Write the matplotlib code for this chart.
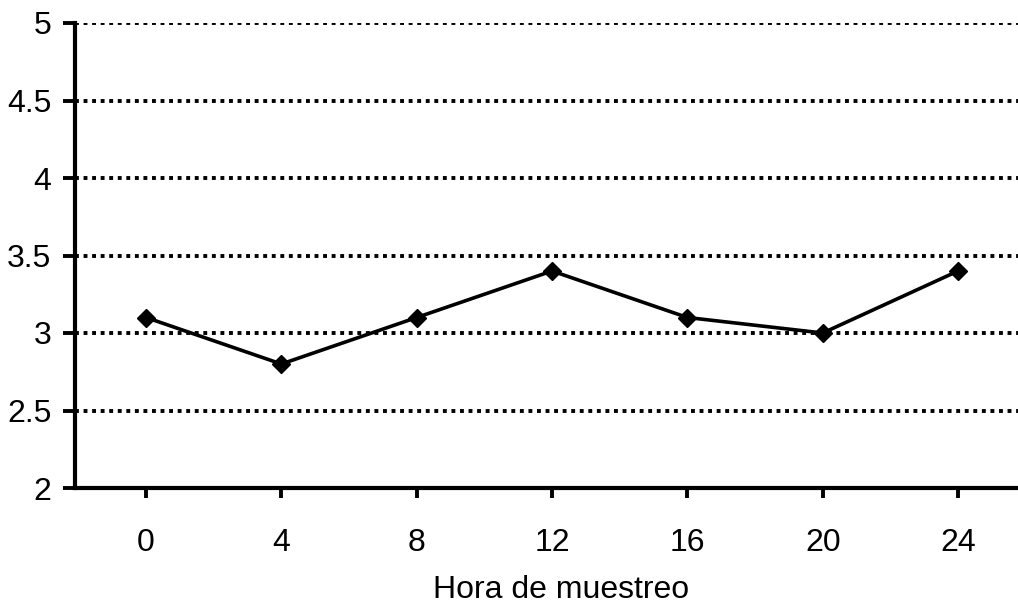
import matplotlib.pyplot as plt

# Datos
horas = ["0", "4", "8", "12", "16", "20", "24"]
valores = [3.1, 2.8, 3.1, 3.4, 3.1, 3.0, 3.4]
yticks = [2, 2.5, 3, 3.5, 4, 4.5, 5]
ytick_labels = ["2", "2.5", "3", "3.5", "4", "4.5", "5"]

plt.rcParams['font.family'] = ['Liberation Sans', 'DejaVu Sans']

fig = plt.figure(figsize=(10.18, 6.03), dpi=100)
ax = fig.add_axes([75 / 1018, 115 / 603, 943 / 1018, 465 / 603])

x = list(range(len(horas)))
ax.plot(x, valores, color='black', lw=2.6, marker='D', markersize=9.5, zorder=3)

ax.set_ylim(2, 5)
ax.set_xlim(-0.525, 6.443)
ax.set_yticks(yticks)
ax.set_yticklabels(ytick_labels)
ax.set_xticks(x)
ax.set_xticklabels(horas)

for y in yticks[1:]:
    ax.axhline(y, color='black', lw=2.8, linestyle=(0, (1, 1.2)), zorder=1)

for side in ['top', 'right']:
    ax.spines[side].set_visible(False)
for side in ['left', 'bottom']:
    ax.spines[side].set_linewidth(3)

ax.tick_params(axis='y', direction='out', length=9, width=2.8, pad=8, labelsize=23)
ax.tick_params(axis='x', direction='out', length=7, width=2.8, pad=22, labelsize=23)

ax.set_xlabel("Hora de muestreo", fontsize=23)
ax.xaxis.set_label_coords(0.515, -0.187)

fig.savefig("out.png", dpi=100)
